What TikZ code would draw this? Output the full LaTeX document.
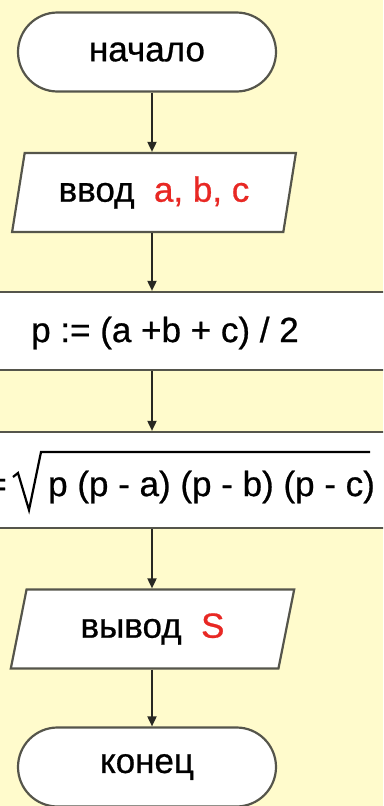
\documentclass[tikz,border=0pt]{standalone}
\usepackage{fontspec}
\setmainfont{Liberation Sans}
\newfontfamily\dfont{Liberation Sans}[FakeBold=0.7]
\usetikzlibrary{shapes.misc,shapes.geometric,arrows.meta}
\definecolor{bgyellow}{RGB}{255,251,204}
\definecolor{boxline}{RGB}{85,85,75}
\definecolor{redtxt}{RGB}{232,40,36}
\definecolor{arrcol}{RGB}{40,40,35}
\tikzset{
  box/.style={draw=boxline, line width=2.2pt, fill=white, inner sep=0pt,
    font=\dfont\fontsize{35}{40}\selectfont},
  term/.style={box, rounded rectangle, minimum width=258pt, minimum height=79pt},
  para/.style={box, trapezium, trapezium left angle=74, trapezium right angle=106,
    trapezium stretches=true, minimum width=284pt, minimum height=79pt},
  proc/.style={box, rectangle, minimum width=410pt},
  txt/.style={inner sep=0pt, font=\dfont\fontsize{35}{40}\selectfont},
  arr/.style={draw=arrcol, line width=1.8pt, -{Triangle[width=9pt,length=10pt]}}
}
\begin{document}
\begin{tikzpicture}[x=1pt,y=-1pt]
\useasboundingbox (0,0) rectangle (383,806);
\clip (0,0) rectangle (383,806);
\fill[bgyellow] (0,0) rectangle (383,806);
\coordinate (ax) at (152,0);
% shapes
\node[term] (start) at (147,52) {\raisebox{-2pt}{начало}};
\node[para] (input) at (154,192.5) {ввод\ \ \textcolor{redtxt}{a, b, c}};
\node[proc, minimum height=78pt] (pbox) at (192,331) {};
\node[txt] (ptext) at (165,333) {p := (a +b + c) / 2};
\node[proc, minimum height=96pt] (sbox) at (192,480) {};
\node[txt, anchor=west] (stext) at (48,487) {p (p - a) (p - b) (p - c)};
\node[txt, anchor=east] (seq) at (7,484) {S =};
\draw[draw=black, line width=2.2pt, line join=miter] (13,477) -- (18,473) -- (29,510) -- (41,452) -- (370,452);
\node[para] (output) at (152.5,629) {вывод\ \ \textcolor{redtxt}{S}};
\node[term] (stop) at (147,767) {\raisebox{-2pt}{конец}};
% connectors
\draw[arr] (start.south -| ax) -- (input.north -| ax);
\draw[arr] (input.south -| ax) -- (pbox.north -| ax);
\draw[arr] (pbox.south -| ax) -- (sbox.north -| ax);
\draw[arr] (sbox.south -| ax) -- (output.north -| ax);
\draw[arr] (output.south -| ax) -- (stop.north -| ax);
\end{tikzpicture}
\end{document}
